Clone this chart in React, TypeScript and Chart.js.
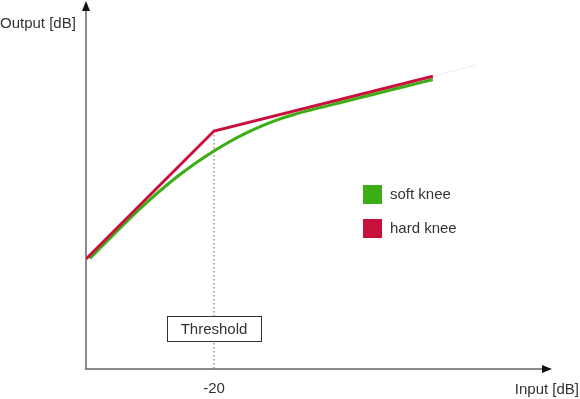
import React, { useEffect, useRef } from "react";
import { Chart, registerables } from "chart.js";

Chart.register(...registerables);

// ---- data (dB) ----
const hardInput = [-40, -20, 14.2];
const hardOutput = [-40, -20, -11.45];
const softInput = [-39.4, -35, -32.5, -30, -27.5, -25, -22.5, -20, -17.5, -15, -12.5, -10, -7.5, -5, 0, 5, 10, 14.2];
const softOutput = [-39.9, -35.5, -33.03, -30.71, -28.55, -26.57, -24.76, -23.12, -21.64, -20.34, -19.2, -18.23, -17.43, -16.75, -15.5, -14.25, -13.0, -11.95];
const faintInput = [14.2, 21.1];
const faintOutput = [-11.45, -9.7];
const thresholdValue = -20;
const xTickLabels = ["-20"];
const thresholdLabel = "Threshold";
const xAxisTitle = "Input [dB]";
const yAxisTitle = "Output [dB]";
const seriesLabels = ["soft knee", "hard knee"];

const GREEN = "#3aae14";
const RED = "#c8103c";
const FONT = '15px "Liberation Sans", Arial, sans-serif';

const toPoints = (xs: number[], ys: number[]) => xs.map((x, i) => ({ x, y: ys[i] }));

const decorPlugin = {
  id: "decor",
  beforeDatasetsDraw(chart: any) {
    const ctx = chart.ctx;
    const xs = chart.scales.x;
    const ys = chart.scales.y;
    const area = chart.chartArea;
    const x0 = area.left;
    const y0 = area.bottom;
    ctx.save();
    // dotted threshold line
    const tx = xs.getPixelForValue(thresholdValue);
    const ty = ys.getPixelForValue(thresholdValue);
    ctx.strokeStyle = "#9a9a9a";
    ctx.lineWidth = 1.6;
    ctx.setLineDash([1.6, 2.4]);
    ctx.beginPath();
    ctx.moveTo(tx, ty + 4);
    ctx.lineTo(tx, y0);
    ctx.stroke();
    ctx.setLineDash([]);
    // axes
    ctx.strokeStyle = "#666";
    ctx.lineWidth = 1.5;
    ctx.beginPath();
    ctx.moveTo(x0, y0);
    ctx.lineTo(x0, area.top + 8);
    ctx.moveTo(x0 - 1, y0);
    ctx.lineTo(area.right - 8, y0);
    ctx.stroke();
    ctx.fillStyle = "#111";
    ctx.beginPath();
    ctx.moveTo(x0, area.top);
    ctx.lineTo(x0 - 4, area.top + 10);
    ctx.lineTo(x0 + 4, area.top + 10);
    ctx.closePath();
    ctx.fill();
    ctx.beginPath();
    ctx.moveTo(area.right, y0);
    ctx.lineTo(area.right - 10, y0 - 4);
    ctx.lineTo(area.right - 10, y0 + 4);
    ctx.closePath();
    ctx.fill();
    ctx.restore();
  },
  afterDraw(chart: any) {
    const ctx = chart.ctx;
    const xs = chart.scales.x;
    const area = chart.chartArea;
    const tx = xs.getPixelForValue(thresholdValue);
    ctx.save();
    ctx.font = FONT;
    ctx.fillStyle = "#333";
    ctx.textBaseline = "middle";
    // threshold box
    const bw = 94, bh = 25, by = 316;
    ctx.fillStyle = "#fff";
    ctx.fillRect(tx - bw / 2, by, bw, bh);
    ctx.strokeStyle = "#333";
    ctx.lineWidth = 1;
    ctx.strokeRect(Math.round(tx - bw / 2) + 0.5, by + 0.5, bw, bh);
    ctx.fillStyle = "#333";
    ctx.textAlign = "center";
    ctx.fillText(thresholdLabel, tx, by + bh / 2 + 1);
    // tick label
    ctx.fillText(xTickLabels[0], tx, area.bottom + 20);
    // axis titles
    ctx.textAlign = "left";
    ctx.fillText(yAxisTitle, 0, 24);
    ctx.textAlign = "right";
    ctx.fillText(xAxisTitle, 579, 390);
    // legend
    const items = chart.data.datasets.filter((d: any) => !d.hideLegend);
    items.sort((a: any, b: any) => a.legendOrder - b.legendOrder);
    items.forEach((d: any, i: number) => {
      const ly = 185 + i * 34;
      ctx.fillStyle = d.borderColor;
      ctx.fillRect(363, ly, 19, 19);
      ctx.fillStyle = "#333";
      ctx.textAlign = "left";
      ctx.fillText(d.label, 390, ly + 10);
    });
    ctx.restore();
  },
};

export default function App() {
  const ref = useRef<HTMLCanvasElement>(null);
  useEffect(() => {
    document.body.style.margin = "0";
    const chart = new Chart(ref.current as HTMLCanvasElement, {
      type: "line",
      data: {
        datasets: [
          {
            label: "",
            data: toPoints(faintInput, faintOutput),
            borderColor: "rgba(0,0,0,0.05)",
            borderWidth: 1.5,
            pointRadius: 0,
            order: 3,
            hideLegend: true,
          } as any,
          {
            label: seriesLabels[0],
            data: toPoints(softInput, softOutput),
            borderColor: GREEN,
            borderWidth: 3,
            pointRadius: 0,
            cubicInterpolationMode: "monotone",
            order: 2,
            legendOrder: 0,
          } as any,
          {
            label: seriesLabels[1],
            data: toPoints(hardInput, hardOutput),
            borderColor: RED,
            borderWidth: 3,
            pointRadius: 0,
            order: 1,
            legendOrder: 1,
          } as any,
        ],
      },
      options: {
        responsive: false,
        animation: false,
        devicePixelRatio: 1,
        layout: { padding: { left: 86, right: 28, top: 1, bottom: 30 } },
        scales: {
          x: { type: "linear", min: -40, max: 32.8125, display: false },
          y: { type: "linear", min: -57.1875, max: 0.3125, display: false },
        },
        plugins: { legend: { display: false }, tooltip: { enabled: false } },
      },
      plugins: [decorPlugin],
    });
    return () => chart.destroy();
  }, []);
  return (
    <div style={{ position: "absolute", left: 0, top: 0, width: 580, height: 399, background: "#fff" }}>
      <canvas ref={ref} width={580} height={399} />
    </div>
  );
}
